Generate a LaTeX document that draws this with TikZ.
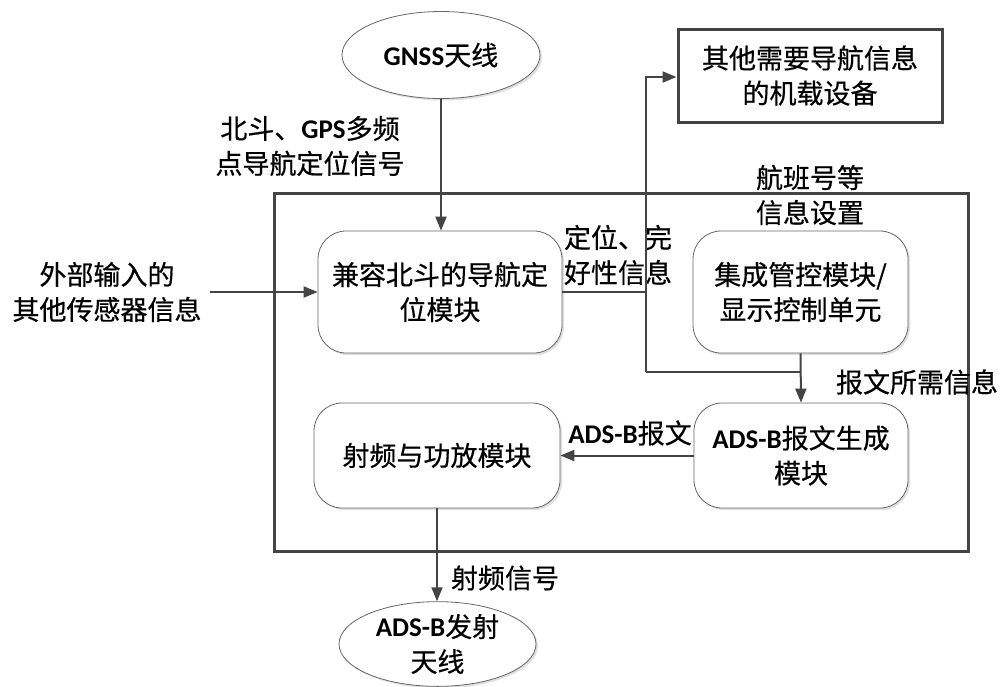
\documentclass[tikz,border=0pt]{standalone}
\usepackage{fontspec}
\setmainfont[FakeBold=0.5]{Noto Sans CJK SC}
\newfontfamily\lat{Carlito}
\newcommand\LB[1]{{\lat\bfseries #1}}
\usetikzlibrary{shapes.geometric,arrows.meta,shadows}
\definecolor{ln}{HTML}{444444}
\definecolor{bx}{HTML}{666666}
\tikzset{
  txt/.style={font=\fontsize{27}{35}\selectfont, align=center, inner sep=0pt, text=black},
  rbox/.style={txt, draw=bx, line width=0.8pt, rounded corners=28pt, fill=white,
    drop shadow={shadow xshift=2pt, shadow yshift=-2pt, opacity=0.25}},
  oval/.style={txt, ellipse, draw=bx, line width=0.8pt, fill=white,
    drop shadow={shadow xshift=2pt, shadow yshift=-2pt, opacity=0.25}},
  tbox/.style={txt, draw=ln, line width=3pt, fill=white,
    drop shadow={shadow xshift=2pt, shadow yshift=-2pt, opacity=0.3}},
  conn/.style={draw=ln, line width=2pt},
  arr/.style={conn, -{Triangle[length=14pt,width=11pt]}},
  lbl/.style={txt}
}
\begin{document}
\begin{tikzpicture}[x=1pt,y=-1pt]
\useasboundingbox (0,0) rectangle (1001,686);
% outer frame
\node[tbox, minimum width=694pt, minimum height=358pt] (frame) at (621,372) {};
% nodes
\node[oval, minimum width=198pt, minimum height=87pt] (gnss) at (441,55) {\LB{GNSS}天线};
\node[tbox, minimum width=264pt, minimum height=93pt] (other) at (810,75.5) {其他需要导航信息\\的机载设备};
\node[rbox, minimum width=244pt, minimum height=122pt] (pos) at (440,292) {兼容北斗的导航定\\位模块};
\node[rbox, minimum width=215pt, minimum height=122pt] (ctrl) at (800.5,292) {集成管控模块/\\显示控制单元};
\node[rbox, minimum width=246pt, minimum height=105pt] (rf) at (437,455.5) {射频与功放模块};
\node[rbox, minimum width=214pt, minimum height=105pt] (gen) at (801,455.5) {\LB{ADS-B}报文生成\\模块};
\node[oval, minimum width=197pt, minimum height=82pt] (ads) at (437.5,644) {\LB{ADS-B}发射\\天线};
\node[lbl] (ext) at (107,292) {外部输入的\\其他传感器信息};
% labels
\node[lbl] (lgnss) at (310,146) {北斗、\LB{GPS}多频\\点导航定位信号};
\node[lbl] (lpos) at (618,255) {定位、完\\好性信息};
\node[lbl] (lset) at (810,195) {航班号等\\信息设置};
\node[lbl] (lmsg) at (917,382) {报文所需信息};
\node[lbl] (ladsb) at (630,433) {\LB{ADS-B}报文};
\node[lbl] (lrf) at (505,578) {射频信号};
% coordinates
\coordinate (extin) at (210,292);
\coordinate (jtop) at (646,77);
\coordinate (jbot) at (646,372);
% connectors
\draw[arr] (gnss.south) -- (gnss.south |- pos.north);
\draw[arr] (extin) -- (pos.west);
\draw[conn] (pos.east) -- (pos.east -| jtop);
\draw[arr] (jbot) -- (jtop) -- (other.west |- jtop);
\draw[conn] (jbot) -- (jbot -| ctrl.south);
\draw[arr] (ctrl.south) -- (gen.north);
\draw[arr] (gen.west) -- (rf.east);
\draw[arr] (rf.south) -- (rf.south |- ads.north);
\end{tikzpicture}
\end{document}
